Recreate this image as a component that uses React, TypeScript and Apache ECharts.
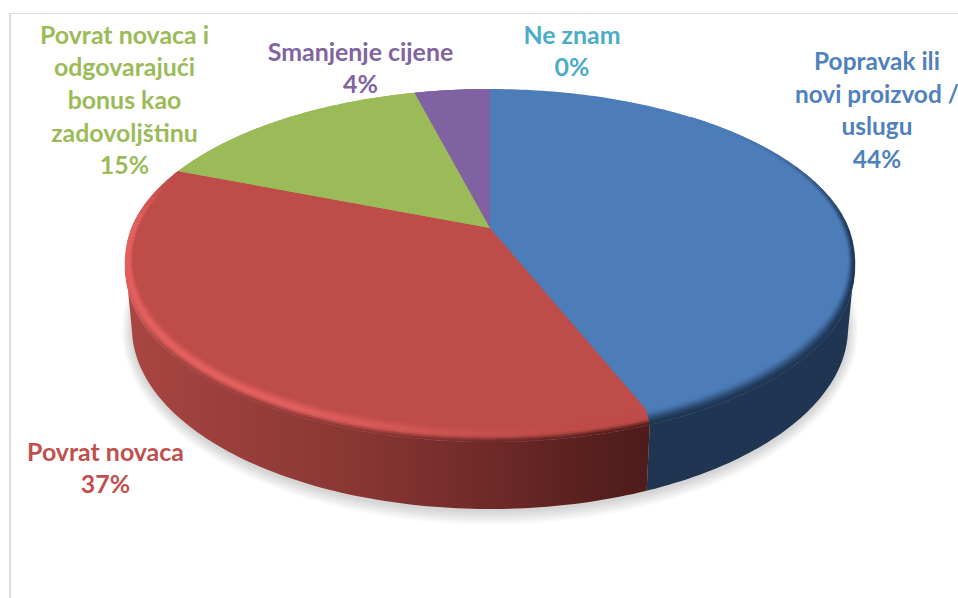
import React, { useEffect, useRef } from "react";
import * as echarts from "echarts";

const categories = [
  "Popravak ili\nnovi proizvod /\nuslugu",
  "Povrat novaca",
  "Povrat novaca i\nodgovarajući\nbonus kao\nzadovoljštinu",
  "Smanjenje cijene",
  "Ne znam",
];
const values = [44, 37, 15, 4, 0];
const faceColors = ["#4C7DB9", "#BE4C49", "#9BBB59", "#8061A1", "#4BACC6"];
const labelColors = ["#4F81BD", "#C0504D", "#9BBB59", "#8064A2", "#4BACC6"];
const labelCentres = [
  [877, 109.5],
  [105.5, 467],
  [124.5, 99],
  [360.5, 67],
  [572, 50],
];
const labelSizes = [24.4, 24.9, 24.9, 24.9, 24.9];

// Perspective view of the disc
const TIP_X = 490, TIP_Y = 228, K = 0.187, A = 358.5, B = 165;
const FLAT_R = 0.978, FRONT_DROP = 11;
const BOTTOM_CY = 328, BOTTOM_RX = 358, BOTTOM_RY = 181, TOP_RX = 365, SILHOUETTE_Y = 260;
const total = values.reduce((s, v) => s + v, 0);

const rad = (d: number) => (d * Math.PI) / 180;
const smooth = (e0: number, e1: number, x: number) => {
  const t = Math.min(1, Math.max(0, (x - e0) / (e1 - e0)));
  return t * t * (3 - 2 * t);
};
function project(a: number, r: number, drop = 0): number[] {
  const u = r * Math.sin(rad(a));
  const v = -r * Math.cos(rad(a));
  const w = 1 - K * v;
  const front = smooth(-0.05, 0.5, -Math.cos(rad(a)));
  return [TIP_X + (A * u) / w, TIP_Y + (B * v) / w + drop * front];
}
function bottomOf(p: number[]): number[] {
  const bx = TIP_X + ((p[0] - TIP_X) * BOTTOM_RX) / TOP_RX;
  const n = (bx - TIP_X) / BOTTOM_RX;
  return [bx, BOTTOM_CY + BOTTOM_RY * Math.sqrt(Math.max(0, 1 - n * n))];
}
function sweep(index: number): number[] {
  const before = values.slice(0, index).reduce((s, v) => s + v, 0);
  return [(before / total) * 360, ((before + values[index]) / total) * 360];
}
function range(a0: number, a1: number, step: number): number[] {
  const out: number[] = [];
  for (let a = a0; a < a1; a += step) out.push(a);
  out.push(a1);
  return out;
}
const hex = (c: string) => [1, 3, 5].map((i) => parseInt(c.slice(i, i + 2), 16));
function mix(c1: string, c2: string, t: number): string {
  const x = hex(c1), y = hex(c2);
  const m = x.map((v, i) => Math.round(v + (y[i] - v) * Math.min(1, Math.max(0, t))));
  return "#" + m.map((v) => v.toString(16).padStart(2, "0")).join("");
}

const redSideStops = [
  [125, "#A94643"],
  [250, "#973D3A"],
  [350, "#8A3734"],
  [480, "#702B29"],
  [600, "#561F1D"],
  [648, "#4E1C1B"],
] as [number, string][];
const BLUE_SIDE = "#1F3552";

function redSideAt(x: number): string {
  for (let i = 1; i < redSideStops.length; i++) {
    if (x <= redSideStops[i][0]) {
      const [x0, c0] = redSideStops[i - 1];
      const [x1, c1] = redSideStops[i];
      return mix(c0, c1, (x - x0) / (x1 - x0));
    }
  }
  return redSideStops[redSideStops.length - 1][1];
}

function bevelColour(index: number, a: number, t: number, x: number): string {
  const face = faceColors[index];
  if (index === 0) {
    const d = smooth(45, 100, a);
    return mix(face, BLUE_SIDE, d * smooth(0.1, 0.95, t));
  }
  const glow = smooth(165, 215, a) * (1 - smooth(268, 292, a));
  const bright = mix(face, "#E46260", glow * smooth(0, 0.55, t));
  const sideMix = smooth(0.6, 1, t) * (1 - smooth(225, 262, a));
  return mix(bright, redSideAt(x), sideMix);
}

function polygon(points: number[][], fill: any, extra: any = {}) {
  return { type: "polygon", silent: true, shape: { points }, style: { fill, ...extra } };
}

function renderShadow() {
  const children: any[] = [];
  const layers = 14;
  for (let s = layers; s >= 1; s--) {
    const pts = range(0, 360, 3).map((a) => {
      const t = rad(a);
      return [
        TIP_X + (BOTTOM_RX + s * 0.75) * Math.sin(t),
        BOTTOM_CY + 2 - (BOTTOM_RY + s) * Math.cos(t),
      ];
    });
    children.push(polygon(pts, "rgba(0,0,0,0.011)"));
  }
  return { type: "group", silent: true, children };
}

function renderSide(p: any, api: any) {
  const i = p.dataIndex;
  if (!api.value(0)) return null;
  const [a0, a1] = sweep(i);
  const top = range(a0, a1, 1)
    .map((a) => project(a, 1, FRONT_DROP))
    .filter((q) => q[1] >= SILHOUETTE_Y);
  if (top.length < 2) return null;
  const pts = top.concat(top.map(bottomOf).reverse());
  const x0 = redSideStops[0][0];
  const x1 = redSideStops[redSideStops.length - 1][0];
  const fill =
    i === 1
      ? new echarts.graphic.LinearGradient(
          x0, 0, x1, 0,
          redSideStops.map(([x, color]) => ({ offset: (x - x0) / (x1 - x0), color })),
          true
        )
      : BLUE_SIDE;
  return polygon(pts, fill);
}

function renderBase(p: any, api: any) {
  const i = p.dataIndex;
  if (!api.value(0)) return null;
  const [a0, a1] = sweep(i);
  const pts = [[TIP_X, TIP_Y]].concat(range(a0, a1, 1).map((a) => project(a, 1, FRONT_DROP)));
  return polygon(pts, faceColors[i]);
}

function renderBevel(p: any, api: any) {
  const i = p.dataIndex;
  if (!api.value(0) || i > 1) return null;
  const [s0, s1] = sweep(i);
  const from = i === 0 ? Math.max(s0, 40) : s0;
  const angles = range(from, s1, 3);
  const steps = 8;
  const children: any[] = [];
  for (let k = 0; k < angles.length - 1; k++) {
    for (let j = 0; j < steps; j++) {
      const t0 = j / steps, t1 = (j + 1) / steps;
      const at = (a: number, t: number) => project(a, FLAT_R + (1 - FLAT_R) * t, FRONT_DROP * t);
      const q = [at(angles[k], t0), at(angles[k + 1], t0), at(angles[k + 1], t1), at(angles[k], t1)];
      const mid = at((angles[k] + angles[k + 1]) / 2, (t0 + t1) / 2);
      const c = bevelColour(i, (angles[k] + angles[k + 1]) / 2, (t0 + t1) / 2, mid[0]);
      children.push(polygon(q, c, { stroke: c, lineWidth: 0.6 }));
    }
  }
  return { type: "group", silent: true, children };
}

function renderFace(p: any, api: any) {
  const i = p.dataIndex;
  if (!api.value(0)) return null;
  const [a0, a1] = sweep(i);
  const arc = range(a0, a1, 1).map((a) => project(a, i > 1 ? 1 : FLAT_R));
  return polygon([[TIP_X, TIP_Y], ...arc], faceColors[i]);
}

function renderLabel(p: any, api: any) {
  const i = p.dataIndex;
  const pct = Math.round((api.value(0) / total) * 100);
  return {
    type: "text",
    silent: true,
    style: {
      text: `${categories[i]}\n${pct}%`,
      x: labelCentres[i][0],
      y: labelCentres[i][1],
      align: "center",
      verticalAlign: "middle",
      fontFamily: "Lato",
      fontWeight: "bold",
      fontSize: labelSizes[i],
      lineHeight: 32.6,
      fill: labelColors[i],
    },
  };
}

export default function App() {
  const ref = useRef<HTMLDivElement>(null);
  useEffect(() => {
    const chart = echarts.init(ref.current!, undefined, { renderer: "svg" });
    const layer = (renderItem: any, z: number) => ({
      type: "custom",
      coordinateSystem: "none",
      silent: true,
      z,
      data: values.map((v, i) => ({ name: categories[i], value: [v] })),
      renderItem,
    });
    chart.setOption({
      animation: false,
      backgroundColor: "#ffffff",
      graphic: [
        { type: "rect", silent: true, shape: { x: 9, y: 13, width: 2, height: 585 }, style: { fill: "#dcdcdc" } },
        { type: "rect", silent: true, shape: { x: 9, y: 13, width: 949, height: 1 }, style: { fill: "#dcdcdc" } },
      ],
      series: [
        { ...layer(renderShadow, 1), data: [{ value: [1] }] },
        layer(renderSide, 2),
        layer(renderBase, 3),
        layer(renderBevel, 4),
        layer(renderFace, 5),
        layer(renderLabel, 6),
      ],
    });
    return () => chart.dispose();
  }, []);
  return <div ref={ref} style={{ position: "fixed", left: 0, top: 0, width: 958, height: 598 }} />;
}
